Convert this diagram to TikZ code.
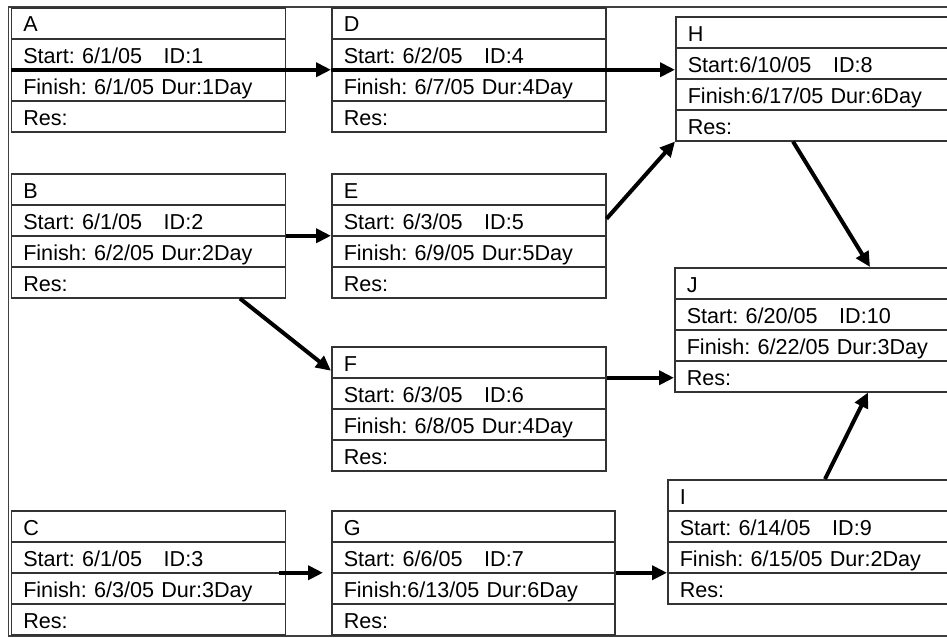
\documentclass[tikz,border=0pt]{standalone}
\usepackage{fontspec}
\setmainfont{Liberation Sans}
\usetikzlibrary{arrows.meta,shapes.multipart}
\newcommand{\rowstrut}{\rule[-3pt]{0pt}{14.75pt}}
\frenchspacing

\begin{document}
\begin{tikzpicture}[
    x=0.5pt, y=-0.5pt,
    every node/.style={font=\fontsize{10.8pt}{13pt}\selectfont},
    task/.style={rectangle split, rectangle split parts=4, draw=black!80, line width=0.75pt,
        anchor=north west, inner xsep=6pt, inner ysep=0pt, align=left, text width=125pt},
    wide/.style={task, text width=150pt},
    frame/.style={draw=black!75, line width=0.75pt},
    flow/.style={-{Triangle[length=7.5pt,width=7pt]}, line width=2pt}
]
\useasboundingbox (0,0) rectangle (947,637);
\fill[white] (0,0) rectangle (947,637);
\clip (0,0) rectangle (947,637);
\draw[frame] (8.5,7) rectangle (1000,636);

\node[task] (A) at (10.5,7) {\rowstrut A\nodepart{two}\rowstrut Start: 6/1/05~~~ID:1\nodepart{three}\rowstrut Finish: 6/1/05 Dur:1Day\nodepart{four}\rowstrut Res:};
\node[task] (D) at (331,7) {\rowstrut D\nodepart{two}\rowstrut Start: 6/2/05~~~ID:4\nodepart{three}\rowstrut Finish: 6/7/05 Dur:4Day\nodepart{four}\rowstrut Res:};
\node[wide] (H) at (675,16) {\rowstrut H\nodepart{two}\rowstrut Start:6/10/05~~~ID:8\nodepart{three}\rowstrut Finish:6/17/05 Dur:6Day\nodepart{four}\rowstrut Res:};
\node[task] (B) at (10.5,173) {\rowstrut B\nodepart{two}\rowstrut Start: 6/1/05~~~ID:2\nodepart{three}\rowstrut Finish: 6/2/05 Dur:2Day\nodepart{four}\rowstrut Res:};
\node[task] (E) at (331,173) {\rowstrut E\nodepart{two}\rowstrut Start: 6/3/05~~~ID:5\nodepart{three}\rowstrut Finish: 6/9/05 Dur:5Day\nodepart{four}\rowstrut Res:};
\node[task] (F) at (331,346) {\rowstrut F\nodepart{two}\rowstrut Start: 6/3/05~~~ID:6\nodepart{three}\rowstrut Finish: 6/8/05 Dur:4Day\nodepart{four}\rowstrut Res:};
\node[wide] (J) at (674,267) {\rowstrut J\nodepart{two}\rowstrut Start: 6/20/05~~~ID:10\nodepart{three}\rowstrut Finish: 6/22/05 Dur:3Day\nodepart{four}\rowstrut Res:};
\node[wide] (I) at (667,479) {\rowstrut I\nodepart{two}\rowstrut Start: 6/14/05~~~ID:9\nodepart{three}\rowstrut Finish: 6/15/05 Dur:2Day\nodepart{four}\rowstrut Res:};
\node[task] (C) at (10.5,510) {\rowstrut C\nodepart{two}\rowstrut Start: 6/1/05~~~ID:3\nodepart{three}\rowstrut Finish: 6/3/05 Dur:3Day\nodepart{four}\rowstrut Res:};
\node[task, text width=129.5pt] (G) at (331,510) {\rowstrut G\nodepart{two}\rowstrut Start: 6/6/05~~~ID:7\nodepart{three}\rowstrut Finish:6/13/05 Dur:6Day\nodepart{four}\rowstrut Res:};

\draw[flow] (A.two split west) -- (D.two split west);
\draw[flow] (D.two split west) -- (D.two split west -| H.west);
\draw[flow] (B.two split east) -- (E.two split west);
\draw[flow] ([xshift=-23pt]B.south east) -- ([yshift=3.5pt]F.text split west);
\draw[flow] ([yshift=-7pt]E.text split east) -- (H.south west);
\draw[flow] ([xshift=59pt]H.south west) -- ([xshift=98pt]J.north west);
\draw[flow] (F.text split east) -- (F.text split east -| J.west);
\draw[flow] ([xshift=79pt]I.north west) -- ([xshift=97pt]J.south west);
\draw[flow] ([xshift=-3.5pt]C.two split east) -- ([xshift=-4pt]G.two split west);
\draw[flow] (G.two split east) -- (G.two split east -| I.west);
\end{tikzpicture}
\end{document}
